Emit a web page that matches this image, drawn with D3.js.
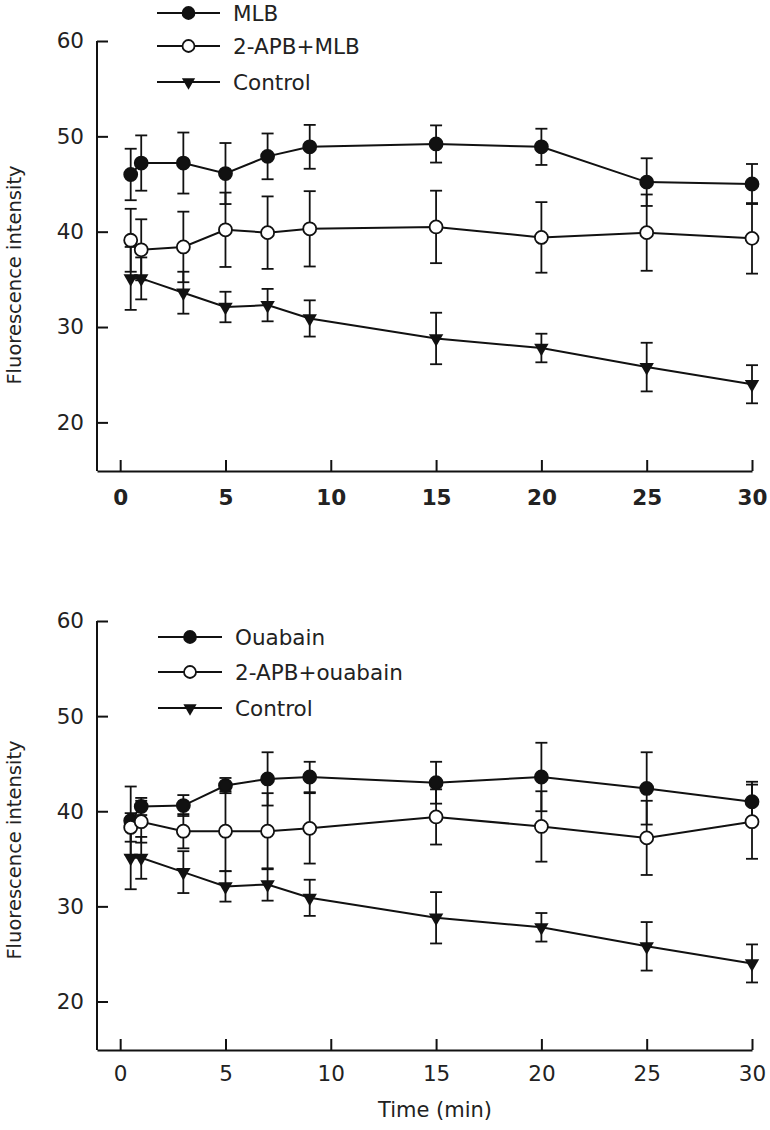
<!DOCTYPE html>
<html>
<head>
<meta charset="utf-8">
<script src="https://cdn.jsdelivr.net/npm/d3@7/dist/d3.min.js"></script>
<style>
  html, body { margin: 0; padding: 0; background: #fff; }
  svg { display: block; }
</style>
</head>
<body>
<svg id="chart" width="770" height="1130"></svg>
<script>
// ---------- DATA ----------
const times = [0.5, 1, 3, 5, 7, 9, 15, 20, 25, 30];
const xTicks = [0, 5, 10, 15, 20, 25, 30];
const yTicks = [20, 30, 40, 50, 60];

const mlb        = [46.0, 47.2, 47.2, 46.1, 47.9, 48.9, 49.2, 48.9, 45.2, 45.0];
const mlbErr     = [2.7, 2.9, 3.2, 3.2, 2.4, 2.3, 1.95, 1.9, 2.5, 2.1];
const apbMlb     = [39.1, 38.1, 38.4, 40.2, 39.9, 40.3, 40.5, 39.4, 39.9, 39.3];
const apbMlbErr  = [3.3, 3.2, 3.7, 3.9, 3.8, 3.95, 3.8, 3.7, 4.0, 3.7];
const control    = [35.1, 35.1, 33.6, 32.1, 32.3, 30.9, 28.8, 27.8, 25.8, 24.0];
const controlErr = [3.3, 2.2, 2.2, 1.6, 1.7, 1.9, 2.7, 1.5, 2.55, 2.0];

const ouabain    = [39.0, 40.5, 40.6, 42.7, 43.4, 43.6, 43.0, 43.6, 42.4, 41.0];
const ouabainErr = [3.6, 0.9, 1.1, 0.8, 2.8, 1.6, 2.2, 3.6, 3.8, 2.1];
const apbOua     = [38.3, 38.9, 37.9, 37.9, 37.9, 38.2, 39.4, 38.4, 37.2, 38.9];
const apbOuaErr  = [1.5, 2.2, 1.8, 4.2, 4.0, 3.7, 2.9, 3.7, 3.9, 3.9];

const topLabels    = ["MLB", "2-APB+MLB", "Control"];
const bottomLabels = ["Ouabain", "2-APB+ouabain", "Control"];
const yTitle = "Fluorescence intensity";
const xTitle = "Time (min)";

// ---------- DRAW ----------
const svg = d3.select("#chart");
const INK = "#111";
const FONT = "'DejaVu Sans', 'Liberation Sans', sans-serif";

const x = d3.scaleLinear().domain([-1.1, 30]).range([97, 752]);

function drawPanel(opt) {
  const y = d3.scaleLinear().domain([14.9, 60]).range(opt.yRange);
  const g = svg.append("g");

  // axes
  const yAxis = d3.axisLeft(y).tickValues(yTicks).tickSizeInner(-11).tickSizeOuter(0).tickPadding(13);
  const xAxis = d3.axisBottom(x).tickValues(xTicks).tickSizeInner(-11).tickSizeOuter(0).tickPadding(opt.xPad);

  const ya = g.append("g").attr("transform", `translate(${x.range()[0]},0)`).call(yAxis);
  const xa = g.append("g").attr("transform", `translate(0,${opt.yRange[0]})`).call(xAxis);
  [ya, xa].forEach(a => {
    a.selectAll("path, line").attr("stroke", INK).attr("stroke-width", 2);
    a.selectAll("text").attr("fill", "#222").style("font-family", FONT).style("font-size", "21.5px");
  });
  if (opt.boldX) xa.selectAll("text").style("font-weight", "bold");
  ya.selectAll("path.domain").attr("d", `M0,${y(60)}V${opt.yRange[0]}`);

  // y title
  const cy = opt.titleY;
  g.append("text")
    .attr("transform", `translate(14,${cy}) rotate(-90)`)
    .attr("text-anchor", "middle").attr("dy", "0.35em")
    .style("font-family", FONT).style("font-size", "19.5px").attr("fill", "#222")
    .text(yTitle);

  if (opt.xTitle) {
    g.append("text").attr("x", 435).attr("y", 1117)
      .attr("text-anchor", "middle")
      .style("font-family", FONT).style("font-size", "21px").attr("fill", "#222")
      .text(opt.xTitle);
  }

  const line = d3.line().x((d, i) => x(times[i])).y(d => y(d));

  // error bars
  opt.series.forEach(s => {
    const eg = g.append("g").attr("stroke", INK).attr("stroke-width", 1.8).attr("fill", "none");
    s.values.forEach((v, i) => {
      const cx = x(times[i]), y1 = y(v + s.err[i]), y2 = y(v - s.err[i]);
      eg.append("line").attr("x1", cx).attr("x2", cx).attr("y1", y1).attr("y2", y2);
      eg.append("line").attr("x1", cx - 6).attr("x2", cx + 6).attr("y1", y1).attr("y2", y1);
      eg.append("line").attr("x1", cx - 6).attr("x2", cx + 6).attr("y1", y2).attr("y2", y2);
    });
  });
  // lines
  opt.series.forEach(s => {
    g.append("path").datum(s.values).attr("d", line)
      .attr("fill", "none").attr("stroke", INK).attr("stroke-width", 2);
  });
  // markers
  function marker(sel, type, scale) {
    if (type === "tri") {
      sel.append("path").attr("d", d3.symbol(d3.symbolTriangle, 90 * scale)())
        .attr("transform", "rotate(180)").attr("fill", INK);
    } else {
      sel.append("circle").attr("r", 6.5 * Math.sqrt(scale))
        .attr("fill", type === "open" ? "#fff" : INK)
        .attr("stroke", INK).attr("stroke-width", 1.8);
    }
  }
  opt.series.forEach(s => {
    s.values.forEach((v, i) => {
      const mg = g.append("g").attr("transform", `translate(${x(times[i])},${y(v)})`);
      marker(mg, s.type, 1);
    });
  });

  // legend
  opt.series.forEach((s, k) => {
    const ly = opt.legendY[k];
    const lg = g.append("g");
    lg.append("line").attr("x1", opt.legendX[0]).attr("x2", opt.legendX[1])
      .attr("y1", ly).attr("y2", ly).attr("stroke", INK).attr("stroke-width", 2);
    const mg = lg.append("g").attr("transform", `translate(${(opt.legendX[0] + opt.legendX[1]) / 2},${ly})`);
    marker(mg, s.type, 0.85);
    lg.append("text").attr("x", opt.legendX[1] + 13).attr("y", ly).attr("dy", "0.36em")
      .style("font-family", FONT).style("font-size", "21.5px").attr("fill", "#222")
      .text(s.label);
  });
}

drawPanel({
  yRange: [471, 41],
  xPad: 19,
  boldX: true,
  titleY: 275,
  legendY: [13, 46, 82],
  legendX: [157, 220],
  series: [
    { label: topLabels[0], values: mlb, err: mlbErr, type: "filled" },
    { label: topLabels[1], values: apbMlb, err: apbMlbErr, type: "open" },
    { label: topLabels[2], values: control, err: controlErr, type: "tri" }
  ]
});

drawPanel({
  yRange: [1050, 621],
  xPad: 16,
  boldX: false,
  titleY: 850,
  xTitle: xTitle,
  legendY: [637, 672, 708],
  legendX: [158, 222],
  series: [
    { label: bottomLabels[0], values: ouabain, err: ouabainErr, type: "filled" },
    { label: bottomLabels[1], values: apbOua, err: apbOuaErr, type: "open" },
    { label: bottomLabels[2], values: control, err: controlErr, type: "tri" }
  ]
});
</script>
</body>
</html>
